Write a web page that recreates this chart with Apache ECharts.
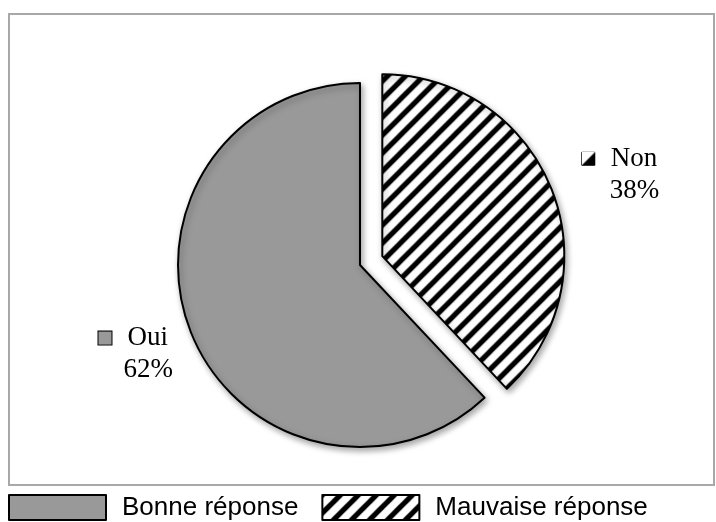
<!DOCTYPE html>
<html>
<head>
<meta charset="utf-8">
<script src="https://cdn.jsdelivr.net/npm/echarts@6/dist/echarts.min.js"></script>
<style>
html,body{margin:0;padding:0;background:#fff;}
#main{width:716px;height:522px;}
</style>
</head>
<body>
<div id="main"></div>
<script>
// donnees
var categories = ['Oui', 'Non'];
var legendNames = ['Bonne réponse', 'Mauvaise réponse'];
var values = [62, 38];

// motif hachure
function hachure(size, w){
	var c = document.createElement('canvas');
	c.width = c.height = size;
	var g = c.getContext('2d');
	g.fillStyle = '#fff';
	g.fillRect(0, 0, size, size);
	g.strokeStyle = '#000';
	g.lineWidth = w;
	g.beginPath();
	[0, size, size * 2].forEach(function(k){
		g.moveTo(-3, k + 3);
		g.lineTo(k + 3, -3);
	});
	g.stroke();
	return c;
}
function petiteIcone(){
	var c = document.createElement('canvas');
	c.width = c.height = 13;
	var g = c.getContext('2d');
	g.fillStyle = '#fff';
	g.fillRect(0, 0, 13, 13);
	g.fillStyle = '#000';
	g.beginPath();
	g.moveTo(13, 0);
	g.lineTo(13, 13);
	g.lineTo(0, 13);
	g.closePath();
	g.fill();
	return c;
}

var couleurs = ['#999999', {image: hachure(18, 5.2), repeat: 'repeat'}];
var lignes = [{length: 60, length2: -68}, {length: 39, length2: -11}];

var data = [];
for (var i = 0; i < values.length; i++) {
	data.push({
		value: values[i],
		name: legendNames[i],
		label: {formatter: '{ic' + i + '|}{gap|}{t|' + categories[i] + '}{pad|}\n{t|{d}%}'},
		labelLine: {show: false, length: lignes[i].length, length2: lignes[i].length2},
		itemStyle: {color: couleurs[i]},
		selected: i == 1
	});
}

var myChart = echarts.init(document.getElementById('main'));
var option = {
	animation: false,
	graphic: [{
		type: 'rect',
		shape: {x: 9, y: 14, width: 705, height: 471},
		style: {fill: 'none', stroke: '#a8a8a8', lineWidth: 2},
		silent: true
	}],
	legend: {
		left: 8,
		top: 494,
		padding: 0,
		itemWidth: 97,
		itemHeight: 25,
		itemGap: 23,
		icon: 'rect',
		selectedMode: false,
		textStyle: {
			fontFamily: 'Liberation Sans',
			fontSize: 26,
			color: '#000',
			padding: [8, 0, 0, 11]
		}
	},
	series: [{
		type: 'pie',
		center: [360, 265],
		radius: 182,
		startAngle: 90,
		clockwise: false,
		selectedMode: 'single',
		selectedOffset: 24,
		avoidLabelOverlap: false,
		itemStyle: {
			borderColor: '#000',
			borderWidth: 2,
			shadowBlur: 6,
			shadowOffsetX: 2,
			shadowOffsetY: 3,
			shadowColor: 'rgba(0,0,0,0.35)'
		},
		emphasis: {disabled: true},
		label: {
			show: true,
			position: 'outside',
			color: '#000',
			rich: {
				ic0: {width: 13, height: 13, backgroundColor: '#999', borderColor: '#000', borderWidth: 1, align: 'center'},
				ic1: {width: 13, height: 13, backgroundColor: {image: petiteIcone()}, borderColor: '#000', borderWidth: 1, align: 'center'},
				gap: {width: 16, align: 'center'},
				pad: {width: 30, align: 'center'},
				t: {fontFamily: 'Liberation Serif', fontSize: 27, lineHeight: 32, color: '#000', align: 'center'}
			}
		},
		data: data
	}]
};
myChart.setOption(option);
</script>
</body>
</html>
